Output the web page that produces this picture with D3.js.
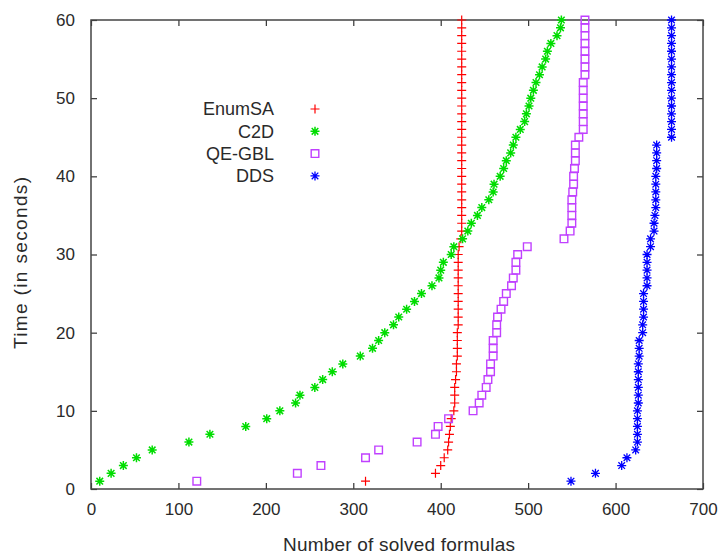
<!DOCTYPE html>
<html lang="en">
<head>
<meta charset="UTF-8">
<title>Solved formulas over time</title>
<script src="https://cdn.jsdelivr.net/npm/d3@7"></script>
<style>
  body { margin: 0; background: #fff; }
  text { font-family: "Liberation Sans", Arial, sans-serif; fill: #2a2a2a; }
</style>
</head>
<body>
<div id="container"></div>
<script>
// time stamps (seconds), same for all series
const times = [1,2,3,4,5,6,7,8,9,10,11,12,13,14,15,16,17,18,19,20,
               21,22,23,24,25,26,27,28,29,30,31,32,33,34,35,36,37,38,39,40,
               41,42,43,44,45,46,47,48,49,50,51,52,53,54,55,56,57,58,59,60];

// number of solved formulas at each time
const enumSA = [314,394,400,404,408,409,410,411,412,415,416,416,416,417,418,418,419,419,419,419,
                420,420,420,420,420,420,420,420,420,420,421,423,424,424,424,424,424,424,424,424,
                424,424,424,424,424,424,424,424,424,424,424,424,424,424,424,424,424,424,424,424];
const c2d    = [10,23,37,52,70,112,136,177,201,216,234,239,256,265,276,288,308,322,329,336,
                346,352,361,370,378,390,398,400,403,412,415,425,431,435,442,447,455,460,461,468,
                472,475,480,483,486,491,496,498,501,503,506,509,513,516,520,522,526,533,537,538];
const qeGBL  = [121,236,263,314,329,373,394,397,409,437,444,447,452,454,457,457,460,460,460,464,
                464,465,469,472,475,481,483,486,486,488,499,541,548,550,550,550,550,551,552,552,
                553,554,554,554,558,563,563,563,563,563,563,563,565,565,565,565,565,565,565,565];
const dds    = [549,577,607,613,623,625,625,625,625,625,626,626,626,626,626,626,627,627,627,631,
                631,632,632,632,632,636,636,636,636,636,640,640,644,644,645,646,646,646,646,646,
                647,647,647,647,664,664,664,664,664,664,664,664,664,664,664,664,664,664,664,664];

const seriesNames = ["EnumSA", "C2D", "QE-GBL", "DDS"];
const xTicks = [0,100,200,300,400,500,600,700];
const yTicks = [0,10,20,30,40,50,60];

const W = 720, H = 559;
const mLeft = 91, mRight = 703, mTop = 20, mBottom = 489;

let svg = d3.select('#container').append('svg')
    .attr('width', W).attr('height', H);

let x = d3.scaleLinear().domain([0, 700]).range([mLeft, mRight]);
let y = d3.scaleLinear().domain([0, 60]).range([mBottom, mTop]);

// markers (gnuplot style)
const shapes = {
  plus: "M-4.5,0H4.5M0,-4.5V4.5",
  star: "M-4.5,0H4.5M0,-4.5V4.5M-3.3,-3.3L3.3,3.3M-3.3,3.3L3.3,-3.3",
  square: "M-3.8,-3.8H3.8V3.8H-3.8Z"
};
const series = [
  {name: seriesNames[0], vals: enumSA, color: "#ff0000", shape: "plus", sw: 1.2},
  {name: seriesNames[1], vals: c2d, color: "#00dd00", shape: "star", sw: 1.5},
  {name: seriesNames[2], vals: qeGBL, color: "#c040ff", shape: "square", sw: 1.4},
  {name: seriesNames[3], vals: dds, color: "#0000ff", shape: "star", sw: 1.3}
];

// frame + ticks (mirrored, inward)
svg.append("g").attr("transform", "translate(0," + mBottom + ")")
  .call(d3.axisBottom(x).tickValues(xTicks).tickSizeInner(-6).tickSizeOuter(0).tickPadding(14))
  .call(g => g.selectAll("text").style("font-size", "17px"));
svg.append("g").attr("transform", "translate(0," + mTop + ")")
  .call(d3.axisTop(x).tickValues(xTicks).tickSizeInner(-6).tickSizeOuter(0).tickFormat(""));
svg.append("g").attr("transform", "translate(" + mLeft + ",0)")
  .call(d3.axisLeft(y).tickValues(yTicks).tickSizeInner(-6).tickSizeOuter(0).tickPadding(16))
  .call(g => g.selectAll("text").style("font-size", "17px"));
svg.append("g").attr("transform", "translate(" + mRight + ",0)")
  .call(d3.axisRight(y).tickValues(yTicks).tickSizeInner(-6).tickSizeOuter(0).tickFormat(""));
svg.selectAll(".domain").remove();
svg.selectAll(".tick line").attr("stroke", "#333").attr("stroke-width", 1.2);
svg.append("rect")
  .attr("x", mLeft).attr("y", mTop)
  .attr("width", mRight - mLeft).attr("height", mBottom - mTop)
  .attr("fill", "none").attr("stroke", "#444").attr("stroke-width", 1.5);

// points
series.forEach(s => {
  svg.append("g").selectAll("path")
    .data(times.map((t, i) => ({t: t, v: s.vals[i]})))
    .join("path")
    .attr("transform", d => "translate(" + x(d.v) + "," + y(d.t) + ")")
    .attr("d", shapes[s.shape])
    .attr("fill", "none")
    .attr("stroke", s.color)
    .attr("stroke-width", s.sw);
});

// legend
let legend = svg.append("g");
series.forEach((s, i) => {
  let ly = 109 + i * 22.3;
  legend.append("text")
    .attr("x", 274).attr("y", ly).attr("dy", "0.35em")
    .attr("text-anchor", "end")
    .style("font-size", "18px")
    .text(s.name);
  legend.append("path")
    .attr("transform", "translate(315," + ly + ")")
    .attr("d", shapes[s.shape])
    .attr("fill", "none")
    .attr("stroke", s.color)
    .attr("stroke-width", s.sw);
});

// axis titles
svg.append("text")
  .attr("x", 399).attr("y", 551)
  .attr("text-anchor", "middle")
  .attr("textLength", 232)
  .style("font-size", "19px")
  .text("Number of solved formulas");
svg.append("text")
  .attr("transform", "translate(27,263) rotate(-90)")
  .attr("text-anchor", "middle")
  .attr("textLength", 172)
  .style("font-size", "19px")
  .text("Time (in seconds)");
</script>
</body>
</html>
